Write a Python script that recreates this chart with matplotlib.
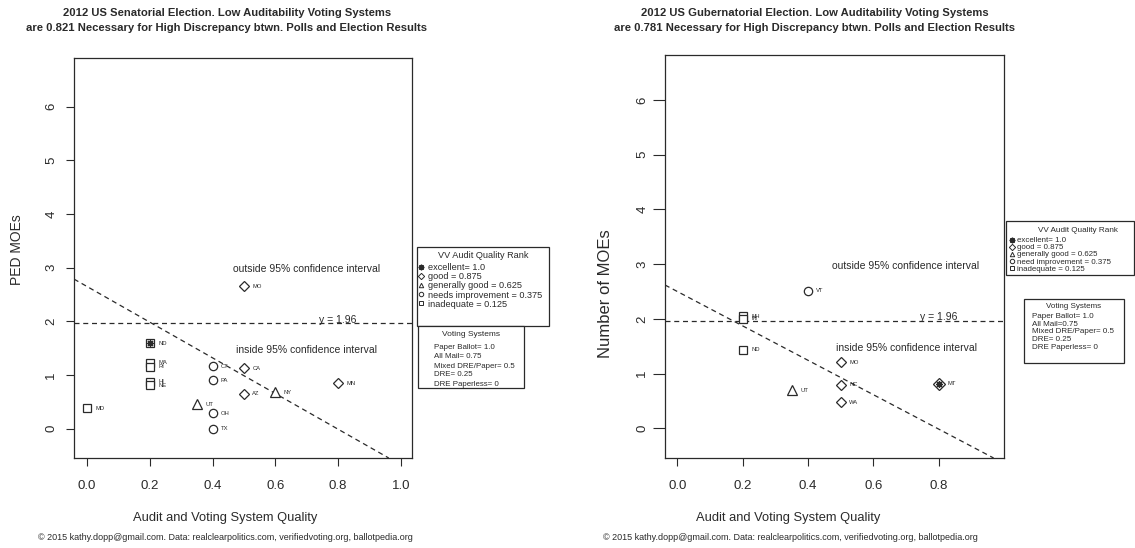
import matplotlib
matplotlib.use("Agg")
import matplotlib.pyplot as plt
from matplotlib.patches import Rectangle

plt.rcParams['font.family'] = ['Liberation Sans', 'DejaVu Sans']

# ---------------- data ----------------
sen_states = ['MO', 'ND', 'MA', 'RI', 'HI', 'NE', 'MD', 'CT', 'PA', 'CA', 'AZ', 'NY', 'MN', 'UT', 'OH', 'TX']
sen_x = [0.5, 0.2, 0.2, 0.2, 0.2, 0.2, 0.0, 0.4, 0.4, 0.5, 0.5, 0.6, 0.8, 0.35, 0.4, 0.4]
sen_y = [2.65, 1.59, 1.23, 1.15, 0.87, 0.81, 0.38, 1.16, 0.90, 1.12, 0.65, 0.68, 0.84, 0.45, 0.28, 0.0]
sen_rank = ['good', 'excellent', 'inadequate', 'inadequate', 'inadequate', 'inadequate', 'inadequate',
            'needs', 'needs', 'good', 'good', 'generally', 'good', 'generally', 'needs', 'needs']
sen_line = (2.65, -3.33)   # intercept, slope

gub_states = ['VT', 'NH', 'IN', 'ND', 'MO', 'NC', 'WA', 'UT', 'MT']
gub_x = [0.4, 0.2, 0.2, 0.2, 0.5, 0.5, 0.5, 0.35, 0.8]
gub_y = [2.51, 2.05, 2.00, 1.44, 1.21, 0.80, 0.48, 0.70, 0.82]
gub_rank = ['needs', 'inadequate', 'inadequate', 'inadequate', 'good', 'good', 'good', 'generally', 'excellent']
gub_line = (2.50, -3.14)

threshold = 1.96
yticks = [0, 1, 2, 3, 4, 5, 6]
sen_xticks = [0.0, 0.2, 0.4, 0.6, 0.8, 1.0]
gub_xticks = [0.0, 0.2, 0.4, 0.6, 0.8]

sen_title = ["2012 US Senatorial Election. Low Auditability Voting Systems",
             "are 0.821 Necessary for High Discrepancy btwn. Polls and Election Results"]
gub_title = ["2012 US Gubernatorial Election. Low Auditability Voting Systems",
             "are 0.781 Necessary for High Discrepancy btwn. Polls and Election Results"]
xlabel = "Audit and Voting System Quality"
sen_ylabel = "PED MOEs"
gub_ylabel = "Number of MOEs"
credit = "\u00a9 2015 kathy.dopp@gmail.com. Data: realclearpolitics.com, verifiedvoting.org, ballotpedia.org"

rank_legend_title = "VV Audit Quality Rank"
sen_rank_labels = ["excellent= 1.0", "good = 0.875", "generally good = 0.625",
                   "needs improvement = 0.375", "inadequate = 0.125"]
gub_rank_labels = ["excellent= 1.0", "good = 0.875", "generally good = 0.625",
                   "need improvement = 0.375", "inadequate = 0.125"]
rank_keys = ['excellent', 'good', 'generally', 'needs', 'inadequate']
vs_title = "Voting Systems"
sen_vs_labels = ["Paper Ballot= 1.0", "All Mail= 0.75", "Mixed DRE/Paper= 0.5", "DRE= 0.25", "DRE Paperless= 0"]
gub_vs_labels = ["Paper Ballot= 1.0", "All Mail=0.75", "Mixed DRE/Paper= 0.5", "DRE= 0.25", "DRE Paperless= 0"]

# ---------------- style ----------------
INK = '#2a2a2a'
W, H = 1135, 548
fig = plt.figure(figsize=(W / 100, H / 100), dpi=100)

marker_of = {'excellent': 's', 'good': 'D', 'generally': '^', 'needs': 'o', 'inadequate': 's'}
size_of = {'excellent': 6, 'good': 5.5, 'generally': 6.5, 'needs': 6, 'inadequate': 6}
STAR = (8, 2, 0)


def px_rect(x0, y0, x1, y1):
    return [x0 / W, 1 - y1 / H, (x1 - x0) / W, (y1 - y0) / H]


def draw_panel(ax, xs, ys, states, ranks, line, xlim, ylim, xticks, ylen):
    ax.set_xlim(*xlim)
    ax.set_ylim(*ylim)
    for x, y, s, r in zip(xs, ys, states, ranks):
        mk = marker_of[r]
        if r == 'excellent' and s == 'MT':
            mk = 'D'
        ax.plot([x], [y], linestyle='none', marker=mk, markersize=size_of[r],
                markerfacecolor='white', markeredgecolor=INK, markeredgewidth=0.9, zorder=3)
        if r == 'excellent':
            ax.plot([x], [y], linestyle='none', marker=STAR, markersize=5,
                    markeredgecolor=INK, markeredgewidth=0.9, zorder=4)
        ax.annotate(s, (x, y), xytext=(6, 0), textcoords='offset points',
                    fontsize=4.2, va='center', ha='left', color=INK)
    ax.axhline(threshold, color=INK, linestyle=(0, (4, 3)), linewidth=0.9)
    ax.axline((0, line[0]), slope=line[1], color=INK, linestyle=(0, (4, 3)), linewidth=0.9)
    ax.text(0.70, 2.97, "outside 95% confidence interval", fontsize=7.5, ha='center', va='center', color=INK)
    ax.text(0.80, 2.03, "y = 1.96", fontsize=7.5, ha='center', va='center', color=INK)
    ax.text(0.70, 1.46, "inside 95% confidence interval", fontsize=7.5, ha='center', va='center', color=INK)
    ax.set_xticks(xticks)
    ax.set_xticklabels([f"{t:.1f}" for t in xticks])
    ax.set_yticks(yticks)
    ax.set_yticklabels([str(t) for t in yticks], rotation=90, va='center')
    for sp in ax.spines.values():
        sp.set_color(INK)
        sp.set_linewidth(0.9)
    ax.tick_params(axis='x', direction='out', length=6, width=0.8, color=INK,
                   labelsize=9.5, pad=10, labelcolor=INK)
    ax.tick_params(axis='y', direction='out', length=ylen, width=0.8, color=INK,
                   labelsize=9.5, labelcolor=INK)


ax1 = fig.add_axes(px_rect(74, 58, 412, 458))
draw_panel(ax1, sen_x, sen_y, sen_states, sen_rank, sen_line, (-0.041, 1.035), (-0.55, 6.91), sen_xticks, 6)
ax1.tick_params(axis='y', pad=6)

ax2 = fig.add_axes(px_rect(665, 55, 1004, 458))
draw_panel(ax2, gub_x, gub_y, gub_states, gub_rank, gub_line, (-0.038, 1.0), (-0.54, 6.82), gub_xticks, 9)
ax2.tick_params(axis='y', pad=3)

# ---------------- overlay in pixel coordinates ----------------
ov = fig.add_axes([0, 0, 1, 1], zorder=5)
ov.set_xlim(0, W)
ov.set_ylim(H, 0)
ov.axis('off')
ov.patch.set_alpha(0)

for cx, lines in ((227, sen_title), (815, gub_title)):
    for ty, line_txt in zip((12, 27), lines):
        ov.text(cx, ty, line_txt, ha='center', va='center_baseline', fontsize=8.1,
                fontweight='bold', color=INK)
ov.text(225, 518, xlabel, ha='center', va='center', fontsize=9.3, color=INK)
ov.text(788, 518, xlabel, ha='center', va='center', fontsize=9.3, color=INK)
ov.text(225, 537, credit, ha='center', va='center', fontsize=6.5, color=INK)
ov.text(790, 537, credit, ha='center', va='center', fontsize=6.5, color=INK)
ov.text(17, 250, sen_ylabel, ha='center', va='center', rotation=90, fontsize=10, color=INK)
ov.text(605, 294, gub_ylabel, ha='center', va='center', rotation=90, fontsize=12, color=INK)


def legend_box(x0, y0, x1, y1, title, title_x, title_y, labels, text_x, ys, marker_x=None, fs=6.2, tfs=None):
    ov.add_patch(Rectangle((x0, y0), x1 - x0, y1 - y0, facecolor='white',
                           edgecolor=INK, linewidth=0.9))
    ov.text(title_x, title_y, title, ha='center', va='center_baseline', fontsize=tfs or fs, color=INK)
    for i, (lab, y) in enumerate(zip(labels, ys)):
        ov.text(text_x, y, lab, ha='left', va='center_baseline', fontsize=fs, color=INK)
        if marker_x is not None:
            key = rank_keys[i]
            if key == 'excellent':
                ov.plot([marker_x], [y], marker=STAR, markersize=4, markeredgecolor=INK,
                        markeredgewidth=1.0, linestyle='none')
            else:
                ov.plot([marker_x], [y], marker=marker_of[key], markersize=3.2,
                        markerfacecolor='white', markeredgecolor=INK, markeredgewidth=0.7,
                        linestyle='none')


legend_box(417, 247, 549, 326, rank_legend_title, 483, 255, sen_rank_labels, 428,
           [266.7, 275.7, 285, 294, 303.3], marker_x=421, fs=6.6)
legend_box(418, 326, 524, 388, vs_title, 471, 334, sen_vs_labels, 434,
           [346.7, 355.7, 365, 374, 383.3], fs=5.7, tfs=6.0)
legend_box(1006, 221, 1134, 275, rank_legend_title, 1078, 229, gub_rank_labels, 1017,
           [239.5, 246.8, 254, 261.2, 268.4], marker_x=1011.5, fs=5.7, tfs=5.9)
legend_box(1024, 299, 1124, 363, vs_title, 1074, 305, gub_vs_labels, 1032.5,
           [315, 323.3, 330.7, 338.3, 346.7], fs=5.8)

fig.savefig("out.png", dpi=100, facecolor='white')
